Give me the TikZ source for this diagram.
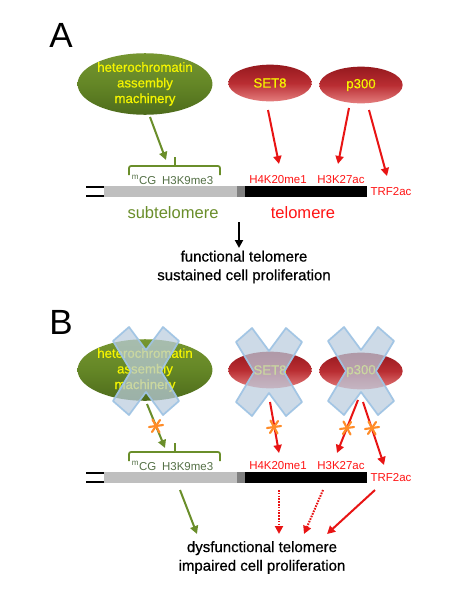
\documentclass[tikz,border=0pt]{standalone}
\usepackage{fontspec}
\setmainfont{Liberation Sans}
\newfontfamily\heavyfont[FakeBold=0.6]{Liberation Sans}
\usetikzlibrary{arrows.meta,shapes.geometric}
\definecolor{ggreen}{RGB}{106,142,42}
\definecolor{gtext}{RGB}{84,112,70}
\definecolor{rred}{RGB}{232,20,20}
\definecolor{tred}{RGB}{255,20,20}
\definecolor{ylw}{RGB}{245,245,0}
\definecolor{xfill}{RGB}{186,204,222}
\definecolor{xedge}{RGB}{160,196,228}
\definecolor{astc}{RGB}{255,140,40}
\tikzset{
  gell/.style={ellipse,inner sep=0pt,minimum width=96pt,minimum height=42pt,
    top color={rgb,255:red,118;green,150;blue,48},bottom color={rgb,255:red,78;green,108;blue,28},
    middle color={rgb,255:red,100;green,134;blue,38},draw=none,text=ylw,align=center,
    font=\heavyfont\fontsize{9.9}{11.7}\selectfont},
  rell/.style={ellipse,inner sep=0pt,minimum width=62.5pt,minimum height=27.5pt,
    top color={rgb,255:red,150;green,25;blue,30},bottom color={rgb,255:red,228;green,125;blue,125},
    middle color={rgb,255:red,185;green,45;blue,50},draw=none,text=ylw,
    font=\heavyfont\fontsize{9.9}{11.7}\selectfont},
  glab/.style={text=gtext,inner sep=0pt,font=\fontsize{8.6}{10}\selectfont},
  rlab/.style={text=tred,inner sep=0pt,font=\fontsize{8.6}{10}\selectfont},
  biglab/.style={inner sep=0pt,font=\fontsize{12.4}{14}\selectfont},
  outtxt/.style={inner sep=0pt,align=center,font=\heavyfont\fontsize{11.25}{14}\selectfont},
  panel/.style={inner sep=0pt,font=\fontsize{26.25}{30}\selectfont},
  garr/.style={draw=ggreen,line width=1.5pt,-{Triangle[length=6pt,width=6pt]}},
  rarr/.style={draw=rred,line width=1.5pt,-{Triangle[length=6pt,width=6pt]}},
  rdot/.style={draw=rred,line width=1.5pt,dash pattern=on 1.2pt off 0.9pt,-{Triangle[length=6pt,width=6pt]}},
  karr/.style={draw=black,line width=1.5pt,-{Triangle[length=6pt,width=6pt]}},
  brk/.style={draw=ggreen,line width=1.3pt,rounded corners=1.5pt},
  xmark/.style={fill=xfill,fill opacity=0.72,draw=xedge,line width=1.3pt,draw opacity=0.95,line join=round},
  astk/.style={draw=astc,line width=1.6pt,line cap=round},
}
\newcommand{\crossX}[2]{%
  \draw[xmark] (#1-17,#2-44) -- (#1,#2-21) -- (#1+17,#2-44) -- (#1+33,#2-30) -- (#1+15,#2) --
    (#1+33,#2+30) -- (#1+17,#2+44) -- (#1,#2+21) -- (#1-17,#2+44) -- (#1-33,#2+30) --
    (#1-15,#2) -- (#1-33,#2-30) -- cycle;}
\newcommand{\astmark}[2]{%
  \draw[astk] (#1-7,#2+1) -- (#1+7,#2-1);
  \draw[astk] (#1-3.5,#2-6.5) -- (#1+3.5,#2+6.5);
  \draw[astk] (#1+4,#2-6) -- (#1-4,#2+6);}
\newcommand{\chrom}[1]{%
  \fill[fill={rgb,255:red,191;green,191;blue,191}] (104,#1) rectangle (237,#1+11);
  \fill[fill={rgb,255:red,128;green,128;blue,128}] (237,#1) rectangle (245,#1+11);
  \fill[black] (245,#1) rectangle (367,#1+11);
  \draw[black,line width=1.5pt] (86,#1+1) -- (104,#1+1) (86,#1+10) -- (104,#1+10);}
\begin{document}
\begin{tikzpicture}[x=0.75pt,y=-0.75pt]
\useasboundingbox[fill=white] (0,0) rectangle (464,600);
% ---------------- Panel A ----------------
\node[panel] (pA) at (61,35) {A};
\node[gell] (hamA) at (145,84) {heterochromatin\\assembly\\machinery};
\node[rell] (setA) at (270,83) {SET8};
\node[rell] (pA300) at (361,85) {p300};
\chrom{186}
\draw[brk] (129,175) -- (129,166) -- (220,166) -- (220,175) (175,166) -- (175,157);
\node[glab] (mcgA) at (172.5,179.5) {\textsuperscript{m}CG\hspace{0.5em}H3K9me3};
\node[rlab] (h4A) at (278,179.5) {H4K20me1};
\node[rlab] (h3A) at (341,179.5) {H3K27ac};
\node[rlab] (trfA) at (391,191.5) {TRF2ac};
\node[biglab,text=ggreen] (subA) at (173,213) {subtelomere};
\node[biglab,text=tred] (telA) at (303,213) {telomere};
\node[outtxt] (funA) at (244,267) {functional telomere\\sustained cell proliferation};
\coordinate (gA1) at (150,117); \coordinate (gA2) at (166,160);
\coordinate (sA1) at (268,110); \coordinate (sA2) at (279,164);
\coordinate (pA1) at (349,108); \coordinate (pA2) at (338,164);
\coordinate (qA1) at (369,110); \coordinate (qA2) at (387,176);
\coordinate (kA1) at (239,222); \coordinate (kA2) at (239,248);
\draw[garr] (gA1) -- (gA2);
\draw[rarr] (sA1) -- (sA2);
\draw[rarr] (pA1) -- (pA2);
\draw[rarr] (qA1) -- (qA2);
\draw[karr] (kA1) -- (kA2);
% ---------------- Panel B ----------------
\node[panel] (pB) at (61,322) {B};
\node[gell] (hamB) at (145,370) {heterochromatin\\assembly\\machinery};
\node[rell] (setB) at (270,370) {SET8};
\node[rell] (pB300) at (361,371) {p300};
\chrom{472}
\draw[brk] (129,461) -- (129,452) -- (220,452) -- (220,461) (175,452) -- (175,443);
\node[glab] (mcgB) at (172.5,466) {\textsuperscript{m}CG\hspace{0.5em}H3K9me3};
\node[rlab] (h4B) at (278,466) {H4K20me1};
\node[rlab] (h3B) at (341,466) {H3K27ac};
\node[rlab] (trfB) at (391,477.5) {TRF2ac};
\node[outtxt] (dysB) at (262,557.5) {dysfunctional telomere\\impaired cell proliferation};
\coordinate (gB1) at (147,404); \coordinate (gB2) at (165,448);
\coordinate (sB1) at (270,402); \coordinate (sB2) at (279,453);
\coordinate (pB1) at (358,400); \coordinate (pB2) at (337,453);
\coordinate (qB1) at (363,402); \coordinate (qB2) at (384,465);
\draw[garr] (gB1) -- (gB2);
\draw[rarr] (sB1) -- (sB2);
\draw[rarr] (pB1) -- (pB2);
\draw[rarr] (qB1) -- (qB2);
\coordinate (oB1) at (180,490); \coordinate (oB2) at (197,534);
\coordinate (dB1) at (279,490); \coordinate (dB2) at (279,534);
\coordinate (eB1) at (323,490); \coordinate (eB2) at (304,534);
\coordinate (fB1) at (375,490); \coordinate (fB2) at (327,534);
\draw[garr] (oB1) -- (oB2);
\draw[rdot] (dB1) -- (dB2);
\draw[rdot] (eB1) -- (eB2);
\draw[rarr] (fB1) -- (fB2);
\crossX{146}{371}
\crossX{269}{372}
\crossX{361}{371}
\astmark{156}{426}
\astmark{274}{427}
\astmark{347}{428}
\astmark{372}{428}
\end{tikzpicture}
\end{document}
